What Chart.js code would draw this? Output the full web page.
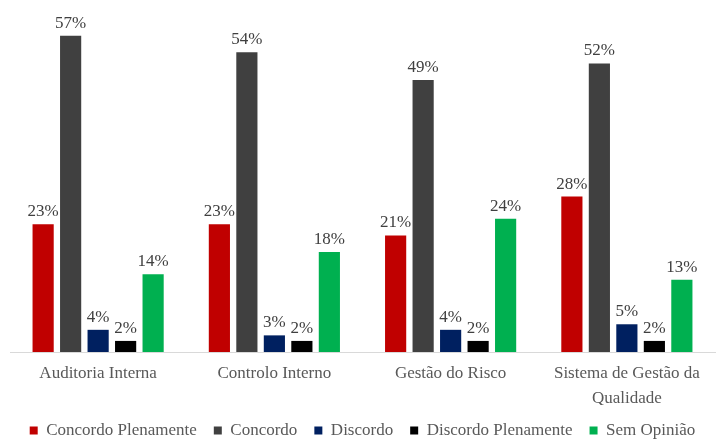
<!DOCTYPE html>
<html>
<head>
<meta charset="utf-8">
<script src="https://cdn.jsdelivr.net/npm/chart.js@4/dist/chart.umd.min.js"></script>
<style>
  html, body { margin: 0; padding: 0; background: #fff; }
  #wrap { width: 719px; height: 439px; position: relative; }
</style>
</head>
<body>
<div id="wrap"><canvas id="grafico"></canvas></div>
<script>
// Categorias e séries (percentagens)
const categorias = ["Auditoria Interna", "Controlo Interno", "Gestão do Risco", ["Sistema de Gestão da", "Qualidade"]];
const concordoPlenamente = [23, 23, 21, 28];
const concordo = [57, 54, 49, 52];
const discordo = [4, 3, 4, 5];
const discordoPlenamente = [2, 2, 2, 2];
const semOpiniao = [14, 18, 24, 13];

const fonte = "'Liberation Serif', 'Times New Roman', serif";

// Escreve o valor em cima de cada barra
const rotulosValores = {
  id: "rotulosValores",
  afterDatasetsDraw(chart) {
    const ctx = chart.ctx;
    ctx.save();
    ctx.font = "17px " + fonte;
    ctx.fillStyle = "#404040";
    ctx.textAlign = "center";
    ctx.textBaseline = "alphabetic";
    chart.data.datasets.forEach((ds, i) => {
      chart.getDatasetMeta(i).data.forEach((bar, j) => {
        ctx.fillText(ds.data[j] + "%", bar.x, bar.y - 8);
      });
    });
    ctx.restore();
  }
};

function serie(label, data, cor) {
  return {
    label: label,
    data: data,
    backgroundColor: cor,
    borderWidth: 0,
    barPercentage: 0.77,
    categoryPercentage: 0.78
  };
}

new Chart(document.getElementById("grafico"), {
  type: "bar",
  data: {
    labels: categorias,
    datasets: [
      serie("Concordo Plenamente", concordoPlenamente, "#C00000"),
      serie("Concordo", concordo, "#404040"),
      serie("Discordo", discordo, "#002060"),
      serie("Discordo Plenamente", discordoPlenamente, "#000000"),
      serie("Sem Opinião", semOpiniao, "#00B050")
    ]
  },
  options: {
    responsive: true,
    maintainAspectRatio: false,
    animation: false,
    layout: { padding: { top: 19, left: 10, right: 4, bottom: -10 } },
    plugins: {
      legend: {
        position: "bottom",
        labels: {
          font: { family: fonte, size: 17 },
          color: "#595959",
          boxWidth: 8,
          boxHeight: 8,
          padding: 17
        }
      },
      tooltip: { enabled: false }
    },
    scales: {
      x: {
        grid: { display: false, drawTicks: false },
        border: { color: "#D9D9D9", width: 1 },
        ticks: {
          font: { family: fonte, size: 17, lineHeight: 1.47 },
          color: "#595959",
          padding: 9,
          maxRotation: 0
        },
        // eixo mais baixo: os rótulos ficam mais perto da legenda
        afterFit(escala) {
          escala.height -= 15;
        }
      },
      y: {
        display: false,
        min: 0,
        max: 60
      }
    }
  },
  plugins: [rotulosValores]
});
</script>
</body>
</html>
